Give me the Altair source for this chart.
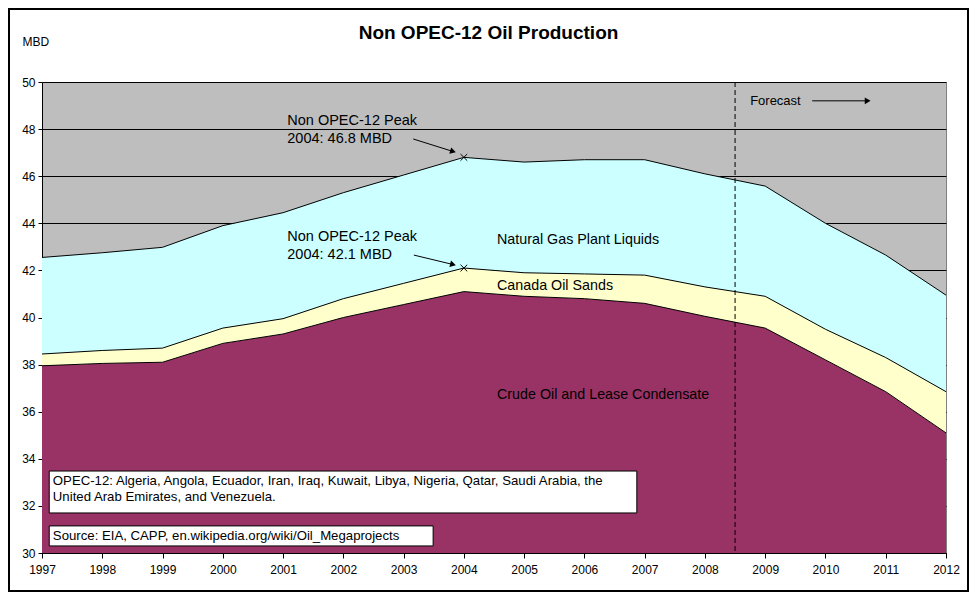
import altair as alt
import pandas as pd

years = list(range(1997, 2013))
crude = [37.95, 38.05, 38.1, 38.9, 39.3, 40.0, 40.55, 41.1, 40.9, 40.8, 40.6, 40.05, 39.55, 38.2, 36.85, 35.1]
sands = [0.5, 0.55, 0.6, 0.65, 0.65, 0.8, 0.9, 1.0, 1.0, 1.05, 1.2, 1.25, 1.35, 1.3, 1.45, 1.75]
ngpl = [4.1, 4.15, 4.28, 4.35, 4.5, 4.5, 4.6, 4.7, 4.7, 4.85, 4.9, 4.8, 4.68, 4.5, 4.35, 4.1]
series_names = ["Crude Oil and Lease Condensate", "Canada Oil Sands", "Natural Gas Plant Liquids"]
series_colors = ["#993366", "#FFFFCC", "#CCFFFF"]

peak_years = [2004, 2004]
peak_values = [46.8, 42.1]
forecast_start = 2008.5
title_text = "Non OPEC-12 Oil Production"

FONT = "Liberation Sans"

rows = []
for i, y in enumerate(years):
    for k, (name, vals) in enumerate(zip(series_names, [crude, sands, ngpl])):
        rows.append({"year": y, "series": name, "value": vals[i], "order": k})
df = pd.DataFrame(rows)

xs = alt.Scale(domain=[1997, 2012], nice=False, zero=False)
ys = alt.Scale(domain=[30, 50], nice=False, zero=False)

base = alt.Chart(df).transform_stack(
    stack="value", groupby=["year"], sort=[alt.SortField("order", order="ascending")],
    as_=["v0", "v1"])

xaxis = alt.Axis(values=years, format="d", title=None, grid=False, labelFlush=False,
                 labelOverlap=False, tickSize=5, labelPadding=6, domainColor="black",
                 tickColor="black", labelFontSize=12, labelColor="black", labelFont=FONT)
yaxis = alt.Axis(values=list(range(30, 51, 2)), title="MBD", titleAngle=0, titleAlign="left",
                 titleBaseline="middle", titleX=-20, titleY=-41, titleFontSize=12,
                 titleFontWeight="normal", titleFont=FONT, titleColor="black",
                 grid=True, gridColor="black", gridOpacity=1, gridWidth=1,
                 tickSize=4, labelPadding=3, domainColor="black", tickColor="black",
                 labelFontSize=12, labelColor="black", labelFont=FONT)

areas = base.mark_area(clip=True, opacity=1).encode(
    x=alt.X("year:Q", scale=xs, axis=xaxis),
    y=alt.Y("v1:Q", scale=ys, axis=yaxis),
    y2="v0:Q",
    color=alt.Color("series:N", scale=alt.Scale(domain=series_names, range=series_colors), legend=None),
)
lines = base.mark_line(clip=True, color="black", strokeWidth=1).encode(
    x=alt.X("year:Q", scale=xs),
    y=alt.Y("v1:Q", scale=ys),
    detail="series:N",
)

forecast_df = pd.DataFrame({"x": [forecast_start]})
fline = alt.Chart(forecast_df).mark_rule(color="black", strokeWidth=1, strokeDash=[5, 3]).encode(
    x=alt.X("x:Q", scale=xs))

peaks_df = pd.DataFrame({"year": peak_years, "value": peak_values})
peaks = alt.Chart(peaks_df).mark_point(shape="M-1,-1L1,1M1,-1L-1,1", filled=False, color="black",
                                       size=45, strokeWidth=1, opacity=1).encode(
    x=alt.X("year:Q", scale=xs), y=alt.Y("value:Q", scale=ys))

ann_df = pd.DataFrame({
    "x": [2001.07, 2001.07, 2001.07, 2001.07],
    "y": [48.34, 47.58, 43.43, 42.66],
    "t": ["Non OPEC-12 Peak", "2004: 46.8 MBD", "Non OPEC-12 Peak", "2004: 42.1 MBD"],
})
ann = alt.Chart(ann_df).mark_text(align="left", baseline="middle", font=FONT, fontSize=14.5,
                                  color="black").encode(
    x=alt.X("x:Q", scale=xs), y=alt.Y("y:Q", scale=ys), text="t:N")

lab_df = pd.DataFrame({
    "x": [2004.55, 2004.55, 2004.55],
    "y": [43.29, 41.34, 36.71],
    "t": ["Natural Gas Plant Liquids", "Canada Oil Sands", "Crude Oil and Lease Condensate"],
})
labs = alt.Chart(lab_df).mark_text(align="left", baseline="middle", font=FONT, fontSize=14.3,
                                   color="black").encode(
    x=alt.X("x:Q", scale=xs), y=alt.Y("y:Q", scale=ys), text="t:N")

fc_df = pd.DataFrame({"x": [2008.75], "y": [49.2], "t": ["Forecast"]})
fc = alt.Chart(fc_df).mark_text(align="left", baseline="middle", font=FONT, fontSize=13,
                                color="black").encode(
    x=alt.X("x:Q", scale=xs), y=alt.Y("y:Q", scale=ys), text="t:N")

arr_df = pd.DataFrame({
    "x": [2003.16, 2003.17, 2009.78],
    "y": [47.58, 42.65, 49.2],
    "x2": [2003.82, 2003.82, 2010.70],
    "y2": [47.05, 42.25, 49.2],
})
arr_lines = alt.Chart(arr_df).mark_rule(color="black", strokeWidth=1).encode(
    x=alt.X("x:Q", scale=xs), y=alt.Y("y:Q", scale=ys), x2="x2:Q", y2="y2:Q")

head_df = pd.DataFrame({"x": [2003.82, 2003.82, 2010.70], "y": [47.05, 42.25, 49.2], "a": [17, 14, 0]})
heads = alt.Chart(head_df).mark_point(shape="triangle-right", filled=True, color="black",
                                      size=45, opacity=1).encode(
    x=alt.X("x:Q", scale=xs), y=alt.Y("y:Q", scale=ys), angle=alt.Angle("a:Q", scale=None))

box_df = pd.DataFrame({
    "x": [1997.12, 1997.12], "x2": [2006.87, 2003.49],
    "y": [33.48, 31.15], "y2": [31.70, 30.30],
})
boxes = alt.Chart(box_df).mark_rect(fill="white", stroke="black", strokeWidth=1, opacity=1).encode(
    x=alt.X("x:Q", scale=xs), x2="x2:Q", y=alt.Y("y:Q", scale=ys), y2="y2:Q")

note_df = pd.DataFrame({
    "x": [1997.18, 1997.18, 1997.18],
    "y": [33.06, 32.38, 30.72],
    "t": ["OPEC-12: Algeria, Angola, Ecuador, Iran, Iraq, Kuwait, Libya, Nigeria, Qatar, Saudi Arabia, the",
          "United Arab Emirates, and Venezuela.",
          "Source: EIA, CAPP, en.wikipedia.org/wiki/Oil_Megaprojects"],
})
notes = alt.Chart(note_df).mark_text(align="left", baseline="middle", font=FONT, fontSize=13.2,
                                     color="black").encode(
    x=alt.X("x:Q", scale=xs), y=alt.Y("y:Q", scale=ys), text="t:N")

title_df = pd.DataFrame({"t": [title_text]})
title = alt.Chart(title_df).mark_text(align="center", baseline="middle", font=FONT, fontSize=19,
                                      fontWeight="bold", color="black", clip=False).encode(
    x=alt.value(446.5), y=alt.value(-49), text="t:N")

frame = alt.Chart(forecast_df).mark_rect(fill="white", fillOpacity=0, stroke="black",
                                         strokeWidth=2, clip=False).encode(
    x=alt.value(-33), x2=alt.value(926), y=alt.value(-73), y2=alt.value(509))

chart = alt.layer(
    areas, lines, fline, peaks, ann, labs, fc, arr_lines, heads, boxes, notes, title, frame
).properties(
    width=904, height=471,
    autosize=alt.AutoSizeParams(type="none"),
    padding={"left": 34, "top": 74, "right": 23, "bottom": 39},
    background="white",
).configure_view(
    fill="#BEBEBE", stroke="#808080", strokeWidth=1
)

chart.save("out.html", embed_options={"renderer": "svg", "actions": False})
